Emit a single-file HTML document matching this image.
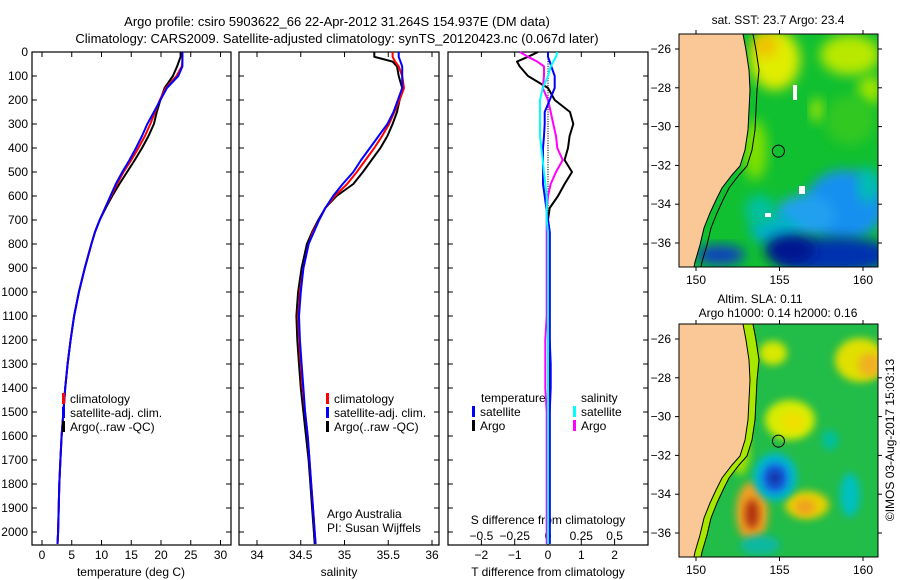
<!DOCTYPE html>
<html><head><meta charset="utf-8">
<style>
html,body{margin:0;padding:0;background:#fff;}
svg{display:block;font-family:"Liberation Sans",sans-serif;}
</style></head>
<body>
<svg id="fig" width="900" height="580" viewBox="0 0 900 580" xmlns="http://www.w3.org/2000/svg">
<defs>
<filter id="blur6" x="-30%" y="-30%" width="160%" height="160%"><feGaussianBlur stdDeviation="6"/></filter>
<filter id="blur3" x="-30%" y="-30%" width="160%" height="160%"><feGaussianBlur stdDeviation="4"/></filter>
<clipPath id="clipTop"><rect x="679" y="34" width="199" height="233"/></clipPath>
<clipPath id="clipBot"><rect x="679" y="324" width="199" height="233"/></clipPath>
</defs>
<text x="337" y="26" text-anchor="middle" font-size="13">Argo profile: csiro 5903622_66 22-Apr-2012 31.264S 154.937E (DM data)</text>
<text x="337" y="43" text-anchor="middle" font-size="13">Climatology: CARS2009. Satellite-adjusted climatology: synTS_20120423.nc (0.067d later)</text>
<g id="p1"></g>
<g id="p2"></g>
<g id="p3"></g>
<g id="maps"></g>
</svg>
<script>
// ---- shared depth grid (m) ----
const depths = [0,20,40,60,100,150,200,250,300,350,400,450,500,550,600,650,700,750,800,900,1000,1100,1200,1300,1400,1500,1600,1700,1800,1900,2000,2050];
// temperature (deg C)
const tempArgo = [23.3,23.3,23.0,22.7,22.0,20.6,19.9,19.3,18.8,17.9,16.8,15.6,14.3,13.0,11.8,10.7,9.7,8.9,8.3,7.2,6.2,5.4,4.8,4.3,3.9,3.6,3.3,3.1,2.9,2.8,2.7,2.6];
const tempClim = [23.6,23.6,23.6,23.5,22.6,20.8,19.8,19.0,18.2,17.3,16.2,15.0,13.7,12.6,11.6,10.6,9.7,8.9,8.3,7.2,6.2,5.4,4.8,4.3,3.9,3.6,3.3,3.1,2.9,2.8,2.7,2.6];
const tempSat  = [23.6,23.6,23.6,23.6,22.9,21.0,19.9,18.8,17.7,16.8,15.8,14.7,13.5,12.4,11.5,10.6,9.7,8.9,8.3,7.2,6.2,5.4,4.8,4.3,3.9,3.6,3.3,3.1,2.9,2.8,2.7,2.6];
// salinity (PSU)
const salArgo = [35.34,35.34,35.55,35.60,35.62,35.66,35.63,35.60,35.55,35.49,35.41,35.31,35.21,35.10,34.91,34.78,34.70,34.63,34.57,34.51,34.47,34.45,34.46,34.48,34.50,34.53,34.56,34.59,34.61,34.63,34.65,34.66];
const salClim = [35.55,35.55,35.58,35.62,35.66,35.68,35.63,35.57,35.51,35.43,35.34,35.24,35.14,35.03,34.89,34.78,34.71,34.64,34.59,34.53,34.49,34.47,34.48,34.50,34.52,34.55,34.58,34.60,34.62,34.64,34.66,34.67];
const salSat  = [35.62,35.62,35.64,35.66,35.66,35.66,35.61,35.56,35.49,35.39,35.29,35.19,35.10,34.98,34.87,34.78,34.71,34.65,34.59,34.53,34.50,34.48,34.49,34.51,34.53,34.55,34.58,34.60,34.62,34.64,34.66,34.67];
// differences from climatology
const dTArgo = [-0.3,-0.6,-0.93,-0.85,-0.6,0.0,0.2,0.66,0.76,0.65,0.6,0.5,0.72,0.5,0.3,0.05,0.0,0.05,0.05,0.05,0.05,0.05,0.05,0.05,0.05,0.05,0.05,0.05,0.05,0.05,0.05,0.05];
const dTSat  = [0.0,0.0,0.05,0.1,0.2,0.2,0.05,-0.1,-0.1,-0.12,-0.15,-0.15,-0.15,-0.15,-0.1,-0.05,0.0,0.05,0.05,0.05,0.05,0.05,0.05,0.08,0.08,0.05,0.05,0.05,0.05,0.05,0.05,0.05];
const dSArgo = [-0.21,-0.15,-0.08,-0.03,-0.03,-0.04,0.0,0.02,0.04,0.06,0.07,0.11,0.06,0.02,0.0,-0.01,-0.01,-0.01,-0.01,-0.01,-0.01,-0.01,-0.02,-0.02,-0.02,-0.01,-0.01,-0.01,-0.01,-0.01,-0.01,-0.01];
const dSSat  = [0.07,0.06,0.04,0.02,0.0,-0.04,-0.06,-0.06,-0.06,-0.06,-0.05,-0.04,-0.03,-0.02,-0.01,-0.01,-0.01,0.0,0.0,0.0,0.0,0.0,0.0,0.0,0.0,0.0,0.0,0.0,0.0,0.0,0.0,0.0];
const depthTicks = [0,100,200,300,400,500,600,700,800,900,1000,1100,1200,1300,1400,1500,1600,1700,1800,1900,2000];
const tempTicks = [0,5,10,15,20,25,30];
const salTicks = [34,34.5,35,35.5,36];
const dTTicks = [-2,-1,0,1,2];
const dSTicks = [-0.5,-0.25,0,0.25,0.5];

const NS="http://www.w3.org/2000/svg";
function mk(parent,tag,attrs,text){const e=document.createElementNS(NS,tag);for(const k in attrs)e.setAttribute(k,attrs[k]);if(text!==undefined)e.textContent=text;parent.appendChild(e);return e;}
const Y0=52, Y1=545;
const yD = d => Y0 + d*0.24;

function box(g,x0,x1){
  const r=mk(g,'rect',{x:x0,y:Y0,width:x1-x0,height:Y1-Y0,fill:'none',stroke:'#000','stroke-width':1.2});
  
  
}
function line(g,xs,xf,color,w,name){
  let d='';
  depths.forEach((dp,i)=>{d+=(i?'L':'M')+xf(xs[i]).toFixed(1)+','+yD(dp).toFixed(1);});
  const p=mk(g,'path',{d:d,fill:'none',stroke:color,'stroke-width':w,'stroke-linejoin':'round'});
  
  
}
function xTicks(g,ticks,xf,y,lab,bottomTicks,topTicks){
  ticks.forEach(t=>{
    const x=xf(t);
    if(bottomTicks) mk(g,'line',{x1:x,x2:x,y1:Y1,y2:Y1-5,stroke:'#000'});
    if(topTicks) mk(g,'line',{x1:x,x2:x,y1:Y0,y2:Y0+5,stroke:'#000'});
    const tx=mk(g,'text',{x:x,y:y,'text-anchor':'middle','font-size':12},String(t).replace('-','\u2212'));
    
    
  });
}
function depthTickMarks(g,x0,x1){
  depthTicks.forEach(d=>{
    mk(g,'line',{x1:x0,x2:x0+5,y1:yD(d),y2:yD(d),stroke:'#000'});
    mk(g,'line',{x1:x1,x2:x1-5,y1:yD(d),y2:yD(d),stroke:'#000'});
  });
}
function legendEntry(g,x,y,color,label){
  mk(g,'rect',{x:x,y:y-10,width:3,height:11,fill:color});
  const t=mk(g,'text',{x:x+8,y:y,'font-size':12},label);
  
  
}

// ---- Panel 1: temperature ----
const p1=document.getElementById('p1');
const xT = v => 42 + v*5.95;
box(p1,32,231);
depthTickMarks(p1,32,231);
depthTicks.forEach(d=>{
  const t=mk(p1,'text',{x:28,y:yD(d)+4,'text-anchor':'end','font-size':12},String(d));
  
  
});
xTicks(p1,tempTicks,xT,559,true,true,true);
line(p1,tempArgo,xT,'#000',2,'argo-temp-line');
line(p1,tempClim,xT,'#f00',2,'clim-temp-line');
line(p1,tempSat,xT,'#00f',2,'sat-temp-line');
mk(p1,'text',{x:131,y:576,'text-anchor':'middle','font-size':12},'temperature (deg C)');
legendEntry(p1,62,403,'#f00','climatology');
legendEntry(p1,62,417,'#00f','satellite-adj. clim.');
legendEntry(p1,62,431,'#000','Argo(..raw -QC)');

// ---- Panel 2: salinity ----
const p2=document.getElementById('p2');
const xS = v => 257 + (v-34)*87.5;
box(p2,239,439);
depthTickMarks(p2,239,439);
xTicks(p2,salTicks,xS,559,true,true,true);
line(p2,salArgo,xS,'#000',2,'argo-sal-line');
line(p2,salClim,xS,'#f00',2,'clim-sal-line');
line(p2,salSat,xS,'#00f',2,'sat-sal-line');
mk(p2,'text',{x:339,y:576,'text-anchor':'middle','font-size':12},'salinity');
legendEntry(p2,326,403,'#f00','climatology');
legendEntry(p2,326,417,'#00f','satellite-adj. clim.');
legendEntry(p2,326,431,'#000','Argo(..raw -QC)');
mk(p2,'text',{x:327,y:518,'font-size':12},'Argo Australia');
mk(p2,'text',{x:327,y:532,'font-size':12},'PI: Susan Wijffels');

// ---- Panel 3: differences ----
const p3=document.getElementById('p3');
const xdT = v => 548 + v*33.3;
const xdS = v => 548 + v*133.2;
box(p3,448,648);
depthTickMarks(p3,448,648);
for(let d=0; d<=2050; d+=10){ mk(p3,'circle',{cx:548,cy:yD(d),r:0.6,fill:'#000'}); }
xTicks(p3,dTTicks,xdT,559,true,true,true);
xTicks(p3,dSTicks,xdS,540,false,false,false);
mk(p3,'text',{x:548,y:524,'text-anchor':'middle','font-size':12},'S difference from climatology');
mk(p3,'text',{x:548,y:576,'text-anchor':'middle','font-size':12},'T difference from climatology');
line(p3,dTArgo,xdT,'#000',2,'argo-temp-diff-line');
line(p3,dSArgo,xdS,'#f0f',2,'argo-sal-diff-line');
line(p3,dTSat,xdT,'#00f',2,'sat-temp-diff-line');
line(p3,dSSat,xdS,'#0ff',2,'sat-sal-diff-line');
mk(p3,'text',{x:481,y:402,'font-size':12},'temperature');
mk(p3,'text',{x:581,y:402,'font-size':12},'salinity');
legendEntry(p3,472,416,'#00f','satellite');
legendEntry(p3,472,430,'#000','Argo');
legendEntry(p3,573,416,'#0ff','satellite');
legendEntry(p3,573,430,'#f0f','Argo');

// ---- Maps ----
const maps=document.getElementById('maps');
const lonX = lon => 696 + (lon-150)*16.7;
const latYtop = lat => 49 + (-26-lat)*19.4;
const coast = [[743,34],[746,50],[749,70],[750,90],[749,110],[748,130],[745,150],[740,166],[732,175],[722,188],[716,200],[710,213],[704,228],[700,245],[695,262],[694,267]];
function coastPath(off){ return 'M679,'+(34+off)+' '+coast.map(p=>'L'+p[0]+','+(p[1]+off)).join(' ')+' L679,'+(267+off)+'Z'; }
function contourPath(off){ return coast.map((p,i)=>(i?'L':'M')+(p[0]+7+(i<3?3:0))+','+(p[1]+off)).join(' '); }
function mapAxes(g,off){
  [150,155,160].forEach(l=>{
    mk(g,'line',{x1:lonX(l),x2:lonX(l),y1:34+off,y2:30+off,stroke:'#000'});
    mk(g,'line',{x1:lonX(l),x2:lonX(l),y1:267+off,y2:271+off,stroke:'#000'});
    mk(g,'text',{x:lonX(l),y:284+off,'text-anchor':'middle','font-size':12},String(l));
  });
  [-26,-28,-30,-32,-34,-36].forEach(l=>{
    const y=latYtop(l)+off;
    mk(g,'line',{x1:679,x2:675,y1:y,y2:y,stroke:'#000'});
    mk(g,'line',{x1:878,x2:882,y1:y,y2:y,stroke:'#000'});
    mk(g,'text',{x:671,y:y+4,'text-anchor':'end','font-size':12},String(l).replace('-','\u2212'));
  });
  mk(g,'rect',{x:679,y:34+off,width:199,height:233,fill:'none',stroke:'#000'});
}
// SST map
const gt=mk(maps,'g',{'clip-path':'url(#clipTop)'});


mk(gt,'rect',{x:679,y:34,width:199,height:233,fill:'#10c030'});
const sstBlobs=[[775,60,25,30,'#e0ec00'],[765,45,12,12,'#f0c000'],[850,55,30,20,'#b8e800'],[870,90,12,15,'#a0e400'],[755,150,12,30,'#80e000'],[817,110,6,12,'#b0e800'],[850,120,25,25,'#30c820'],
 [845,205,40,35,'#1890f0'],[805,215,30,20,'#20a0f0'],[775,230,25,15,'#00b0c8'],[760,210,15,15,'#00c0a0'],[835,255,60,18,'#0030b0'],[790,250,25,15,'#001890'],[720,255,25,10,'#1040c0'],[868,185,10,18,'#00c0b0']];
sstBlobs.forEach(b=>mk(gt,'ellipse',{cx:b[0],cy:b[1],rx:b[2],ry:b[3],fill:b[4],filter:'url(#blur6)'}));
mk(gt,'rect',{x:793,y:85,width:4,height:15,fill:'#fff'});
mk(gt,'rect',{x:799,y:186,width:6,height:8,fill:'#fff'});
mk(gt,'rect',{x:765,y:213,width:6,height:4,fill:'#fff'});
mk(gt,'path',{d:coastPath(0),fill:'#f9c896',stroke:'#000','stroke-width':1});
mk(gt,'path',{d:contourPath(0),fill:'none',stroke:'#000','stroke-width':1});
mk(gt,'circle',{cx:lonX(154.937),cy:latYtop(-31.264),r:6,fill:'none',stroke:'#000'});
mapAxes(maps,0);
mk(maps,'text',{x:778,y:24,'text-anchor':'middle','font-size':12},'sat. SST: 23.7 Argo: 23.4');
// SLA map
const OFF=290;
const gb=mk(maps,'g',{'clip-path':'url(#clipBot)'});


mk(gb,'rect',{x:679,y:324,width:199,height:233,fill:'#22bc48'});
const slaBlobs=[[860,360,25,22,'#e0e000'],[870,365,12,12,'#f0b020'],[773,353,14,12,'#d8e800'],[790,420,25,20,'#d8ec00'],[793,422,12,10,'#f0e000'],
 [807,505,22,14,'#e8d000'],[805,507,10,8,'#f0a020'],[752,512,16,30,'#f0a020'],[752,514,7,15,'#b03010'],[775,477,22,24,'#00b8d0'],[775,478,13,15,'#1860e0'],[775,478,6,7,'#1030a0'],
 [850,495,10,22,'#00c0c0'],[830,440,8,10,'#00c0a0'],[740,450,10,25,'#a0e000'],[760,545,20,10,'#10b8a0'],[715,400,15,60,'#50c830']];
slaBlobs.forEach(b=>mk(gb,'ellipse',{cx:b[0],cy:b[1],rx:b[2],ry:b[3],fill:b[4],filter:'url(#blur3)'}));
mk(gb,'path',{d:contourPath(OFF)+' L680,'+(267+OFF)+' L680,'+(34+OFF)+'Z',fill:'#a8e800',stroke:'none'});
mk(gb,'path',{d:coastPath(OFF),fill:'#f9c896',stroke:'#000','stroke-width':1});
mk(gb,'path',{d:contourPath(OFF),fill:'none',stroke:'#000','stroke-width':1});
mk(gb,'circle',{cx:lonX(154.937),cy:latYtop(-31.264)+OFF,r:6,fill:'none',stroke:'#000'});
mapAxes(maps,OFF);
mk(maps,'text',{x:760,y:303,'text-anchor':'middle','font-size':12},'Altim. SLA: 0.11');
mk(maps,'text',{x:778,y:317,'text-anchor':'middle','font-size':12},'Argo h1000: 0.14 h2000: 0.16');
const stamp=mk(maps,'text',{x:894,y:440,'text-anchor':'middle','font-size':12,transform:'rotate(-90 894 440)'},'©IMOS 03-Aug-2017 15:03:13');


</script>
</body></html>
